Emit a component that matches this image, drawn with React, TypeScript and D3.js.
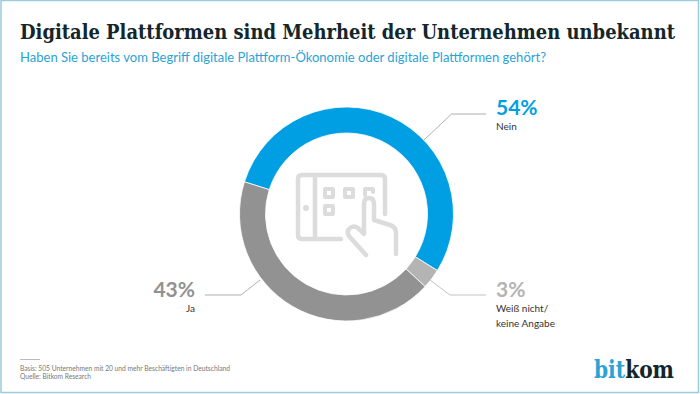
import React from "react";
import * as d3 from "d3";

const categories = ["Nein", "Weiß nicht/ keine Angabe", "Ja"];
const values = [54, 3, 43];
const colors = ["#009fe3", "#b4b4b4", "#929292"];
const pctLabels = ["54%", "3%", "43%"];

const W = 700, H = 394, CX = 346.5, CY = 214, RO = 107, RI = 81;
const START = (-72.5 * Math.PI) / 180;

export default function App() {
  const pie = d3.pie<number>().sort(null).startAngle(START).endAngle(START + 2 * Math.PI);
  const arc = d3.arc<d3.PieArcDatum<number>>().innerRadius(RI).outerRadius(RO);
  const arcs = pie(values);
  const line = d3.line();
  const sans = "Lato, 'Open Sans', sans-serif";
  const serif = "'DejaVu Serif Condensed', 'DejaVu Serif', serif";
  return (
    <svg width={W} height={H} viewBox={`0 0 ${W} ${H}`} style={{ position: "absolute", left: 0, top: 0, background: "#fff" }}>
      <rect x={1} y={0.5} width={697.5} height={392} fill="none" stroke="#9ccbd9" strokeWidth={1.5} />
      <text x={20} y={38.5} fontFamily={serif} fontWeight={700} fontSize={20.5} fill="#12262c" textLength={655} lengthAdjust="spacingAndGlyphs">Digitale Plattformen sind Mehrheit der Unternehmen unbekannt</text>
      <text x={20} y={61.5} fontFamily={sans} fontSize={14} fill="#2ba3d6" textLength={526} lengthAdjust="spacingAndGlyphs">Haben Sie bereits vom Begriff digitale Plattform-Ökonomie oder digitale Plattformen gehört?</text>

      <g transform={`translate(${CX},${CY})`}>
        {arcs.map((a, i) => (
          <path key={categories[i]} d={arc(a) || ""} fill={colors[i]} stroke="#fff" strokeWidth={0.8} />
        ))}
      </g>

      <g fill="none" stroke="#dcdcdc" strokeWidth={4.5} strokeLinecap="round" strokeLinejoin="round">
        <path d="M341 239 H302 Q298 239 298 235 V179 Q298 175 302 175 H381 Q385 175 385 179 V214" />
        <path d="M315 175 V239" />
        <rect x={325} y={189} width={8} height={8} strokeWidth={4} />
        <rect x={345} y={189} width={8} height={8} strokeWidth={4} />
        <rect x={325} y={206} width={8} height={8} strokeWidth={4} />
        <path d="M365 195 V189 H373 V192" strokeWidth={4} />
        <path d="M366 255 L349 236 Q346 231 350 228 Q354 225 358 228 L364 234 V204 Q364 198 369 198 Q374 198 374 204 V220 L390 225 Q396 227 396 233 V254" />
      </g>
      <circle cx={306} cy={208} r={3} fill="#dcdcdc" />

      <path d={line([[424, 140], [451.5, 114], [486, 114]]) || ""} fill="none" stroke="#9a9a9a" strokeWidth={0.8} />
      <path d={line([[430, 280], [450, 295], [486, 295]]) || ""} fill="none" stroke="#b4b4b4" strokeWidth={0.8} />
      <path d={line([[260, 280], [241, 295], [205, 295]]) || ""} fill="none" stroke="#9a9a9a" strokeWidth={0.8} />

      <text x={496} y={115} fontFamily={sans} fontWeight={700} fontSize={21} fill={colors[0]}>{pctLabels[0]}</text>
      <text x={496} y={129.5} fontFamily={sans} fontSize={10} fill="#333">{categories[0]}</text>

      <text x={496} y={297} fontFamily={sans} fontWeight={700} fontSize={21} fill={colors[1]}>{pctLabels[1]}</text>
      <text x={496} y={311.5} fontFamily={sans} fontSize={10} fill="#333">Weiß nicht/</text>
      <text x={496} y={327} fontFamily={sans} fontSize={10} fill="#333">keine Angabe</text>

      <text x={195} y={297} textAnchor="end" fontFamily={sans} fontWeight={700} fontSize={21} fill={colors[2]}>{pctLabels[2]}</text>
      <text x={195} y={311.5} textAnchor="end" fontFamily={sans} fontSize={10} fill="#333">{categories[2]}</text>

      <line x1={20} x2={40} y1={359.5} y2={359.5} stroke="#aaa" strokeWidth={0.8} />
      <text x={20} y={371} fontFamily={sans} fontSize={7} fill="#777" textLength={210} lengthAdjust="spacingAndGlyphs">Basis: 505 Unternehmen mit 20 und mehr Beschäftigten in Deutschland</text>
      <text x={20} y={379} fontFamily={sans} fontSize={7} fill="#777" textLength={71} lengthAdjust="spacingAndGlyphs">Quelle: Bitkom Research</text>

      <text x={594} y={378} fontFamily={serif} fontWeight={700} fontSize={24} textLength={80} lengthAdjust="spacingAndGlyphs">
        <tspan fill="#2ba3d6">bit</tspan><tspan fill="#12262c">kom</tspan>
      </text>
    </svg>
  );
}
